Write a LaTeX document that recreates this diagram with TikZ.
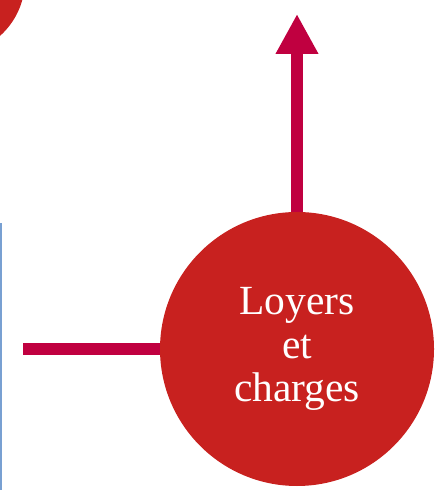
\documentclass[tikz,border=0pt]{standalone}
\usepackage{fontspec}
\setmainfont{Liberation Serif}
\usepackage{tikz}
\usetikzlibrary{arrows.meta}
\usepackage{xcolor}
\definecolor{rougecercle}{RGB}{200,33,31}
\definecolor{cramoisi}{RGB}{192,0,64}
\definecolor{bleubord}{RGB}{120,160,210}

\begin{document}
\begin{tikzpicture}[>={Triangle[length=1cm,width=1cm]},line cap=butt]
\useasboundingbox (0,0) rectangle (11.075,12.25);
\begin{scope}
\clip (0,0) rectangle (11.075,12.25);
\fill[rougecercle] (-1.25,12.75) circle (1.875);
\end{scope}
\draw[bleubord,line width=0.05cm] (0.025,0) -- (0.025,6.675);
\node[circle,fill=rougecercle,minimum size=6.85cm,inner sep=0pt,text=white,align=center,
  font=\fontsize{29.5}{31}\selectfont] (loyers) at (7.425,3.525) {Loyers\\et\\charges};
\coordinate (gauche) at (0.575,3.525);
\coordinate (haut) at (7.425,11.9);
\draw[cramoisi,line width=0.3cm] (gauche) -- (loyers);
\draw[cramoisi,line width=0.3cm,->] (loyers) -- (haut);
\end{tikzpicture}
\end{document}
